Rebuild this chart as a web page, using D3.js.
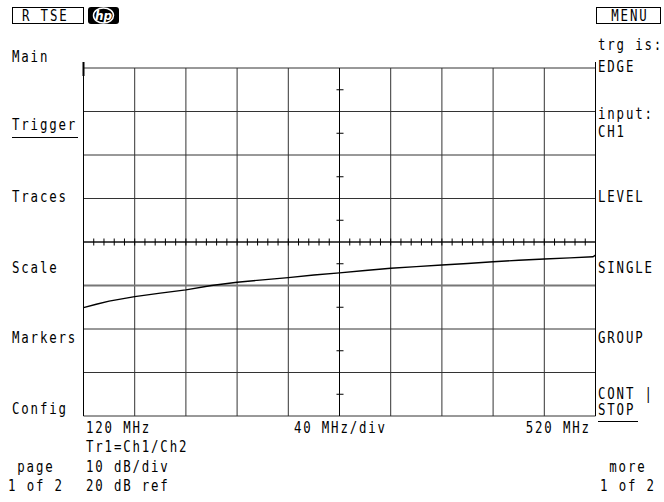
<!DOCTYPE html>
<html>
<head>
<meta charset="utf-8">
<script src="https://cdn.jsdelivr.net/npm/d3@7"></script>
<style>
  html, body { margin: 0; padding: 0; background: #fff; }
  svg text.t { font-family: "DejaVu Sans Mono", monospace; font-size: 15.5px; letter-spacing: 2.3px; fill: #000; }
</style>
</head>
<body>
<svg id="chart" width="664" height="502"></svg>
<script>
// ---- data ----
const freqsMHz = [120, 130, 140, 160, 180, 200, 220, 240, 260, 280, 300, 320, 340, 360, 380, 400, 420, 440, 460, 480, 500, 518, 520];
const ratioDB  = [14.9, 15.7, 16.4, 17.45, 18.25, 19.0, 20.0, 20.75, 21.3, 21.8, 22.4, 22.9, 23.45, 23.95, 24.35, 24.7, 25.05, 25.45, 25.8, 26.1, 26.35, 26.6, 27.0];
const xGridMHz = [120, 160, 200, 240, 280, 320, 360, 400, 440, 480, 520];
const yGridDB  = [-10, 0, 10, 20, 30, 40, 50, 60, 70];
const refLevelDB = 20;
const centerFreqMHz = 320;
const centerDB = 30;
const xTickLabels = ["120 MHz", "40 MHz/div", "520 MHz"];
const infoLines = ["Tr1=Ch1/Ch2", "10 dB/div", "20 dB ref"];
const leftKeys = ["Main", "Trigger", "Traces", "Scale", "Markers", "Config"];
const rightKeys = [["trg is:", "EDGE"], ["input:", "CH1"], ["LEVEL"], ["SINGLE"], ["GROUP"], ["CONT |", "STOP"]];
const pageLines = ["page", "1 of 2"];
const moreLines = ["more", "1 of 2"];

// ---- layout ----
const svg = d3.select("#chart");
const L = 83.5, R = 595.5, T = 68, B = 416;
const x = d3.scaleLinear().domain([120, 520]).range([L, R]);
const y = d3.scaleLinear().domain([-10, 70]).range([B, T]);
const SX = 0.8, LS = 2.3;

function label(px, py, str, anchor) {
  anchor = anchor || "start";
  let dx = 0;
  if (anchor === "end") dx = LS * SX;
  if (anchor === "middle") dx = LS * SX / 2;
  return svg.append("text").attr("class", "t")
    .attr("transform", `translate(${px + dx},${py}) scale(${SX},1)`)
    .attr("text-anchor", anchor).text(str);
}

// grid
const g = svg.append("g");
g.selectAll("line.v").data(xGridMHz).join("line")
  .attr("x1", d => x(d)).attr("x2", d => x(d))
  .attr("y1", T).attr("y2", B)
  .attr("stroke", "#333").attr("stroke-width", 1);
g.selectAll("line.h").data(yGridDB).join("line")
  .attr("x1", L).attr("x2", R)
  .attr("y1", d => y(d)).attr("y2", d => y(d))
  .attr("stroke", d => d === refLevelDB ? "#777" : "#333")
  .attr("stroke-width", d => d === refLevelDB ? 2 : 1);

// borders extending above the graticule
[L, R].forEach(xx => {
  g.append("line").attr("x1", xx).attr("x2", xx).attr("y1", 62).attr("y2", B)
    .attr("stroke", "#000").attr("stroke-width", 1);
});
g.append("line").attr("x1", L).attr("x2", L).attr("y1", 62).attr("y2", 76)
  .attr("stroke", "#000").attr("stroke-width", 2);

// center axis with minor ticks
g.append("line").attr("x1", L).attr("x2", R).attr("y1", y(centerDB)).attr("y2", y(centerDB))
  .attr("stroke", "#000").attr("stroke-width", 1);
g.append("line").attr("x1", x(centerFreqMHz)).attr("x2", x(centerFreqMHz)).attr("y1", T).attr("y2", B)
  .attr("stroke", "#000").attr("stroke-width", 1);
const minorX = d3.range(120, 520.01, 8);
g.selectAll("line.mx").data(minorX).join("line")
  .attr("x1", d => x(d)).attr("x2", d => x(d))
  .attr("y1", y(centerDB) - 3.5).attr("y2", y(centerDB) + 3.5)
  .attr("stroke", "#000").attr("stroke-width", 1);
const minorY = d3.range(-5, 70, 10);
g.selectAll("line.my").data(minorY).join("line")
  .attr("x1", x(centerFreqMHz) - 3).attr("x2", x(centerFreqMHz) + 4)
  .attr("y1", d => y(d)).attr("y2", d => y(d))
  .attr("stroke", "#000").attr("stroke-width", 1);

// trace
const line = d3.line().x((d, i) => x(freqsMHz[i])).y(d => y(d));
svg.append("path").datum(ratioDB)
  .attr("d", line).attr("fill", "none").attr("stroke", "#000").attr("stroke-width", 1.4);

// ---- header ----
svg.append("rect").attr("x", 12.5).attr("y", 7.5).attr("width", 71).attr("height", 16)
  .attr("fill", "none").attr("stroke", "#000");
label(22, 21, "R TSE");
svg.append("rect").attr("x", 88).attr("y", 7).attr("width", 31).attr("height", 17).attr("rx", 3)
  .attr("fill", "#000");
svg.append("ellipse").attr("cx", 103.5).attr("cy", 15.5).attr("rx", 10).attr("ry", 7.5)
  .attr("fill", "none").attr("stroke", "#fff").attr("stroke-width", 1.5);
svg.append("text").attr("x", 103.5).attr("y", 20).attr("text-anchor", "middle")
  .style("font-family", "DejaVu Sans").style("font-style", "italic").style("font-weight", "bold")
  .style("font-size", "12px").style("fill", "#fff").text("hp");
svg.append("rect").attr("x", 596.5).attr("y", 7.5).attr("width", 64).attr("height", 16)
  .attr("fill", "none").attr("stroke", "#000");
label(629, 21, "MENU", "middle");

// ---- left softkeys ----
const leftBase = [61.5, 130, 202, 273, 343, 414];
leftKeys.forEach((k, i) => label(12, leftBase[i], k));
// Trigger underline
svg.append("line").attr("x1", 12).attr("x2", 78).attr("y1", 137.5).attr("y2", 137.5)
  .attr("stroke", "#000").attr("stroke-width", 1);

// ---- right softkeys ----
const rightBase = [[50, 72], [119, 137], [202], [273], [343], [399, 415]];
rightKeys.forEach((lines, i) => {
  lines.forEach((t, j) => label(598, rightBase[i][j], t));
});
svg.append("line").attr("x1", 598).attr("x2", 638).attr("y1", 421.5).attr("y2", 421.5)
  .attr("stroke", "#000").attr("stroke-width", 1);

// ---- bottom annotations ----
label(86, 433, xTickLabels[0]);
label(x(centerFreqMHz), 433, xTickLabels[1], "middle");
label(589, 433, xTickLabels[2], "end");
infoLines.forEach((t, i) => label(86, 452 + i * 19.5, t));
pageLines.forEach((t, i) => label(35, 471.5 + i * 19.5, t, "middle"));
moreLines.forEach((t, i) => label(627, 471.5 + i * 19.5, t, "middle"));
</script>
</body>
</html>
